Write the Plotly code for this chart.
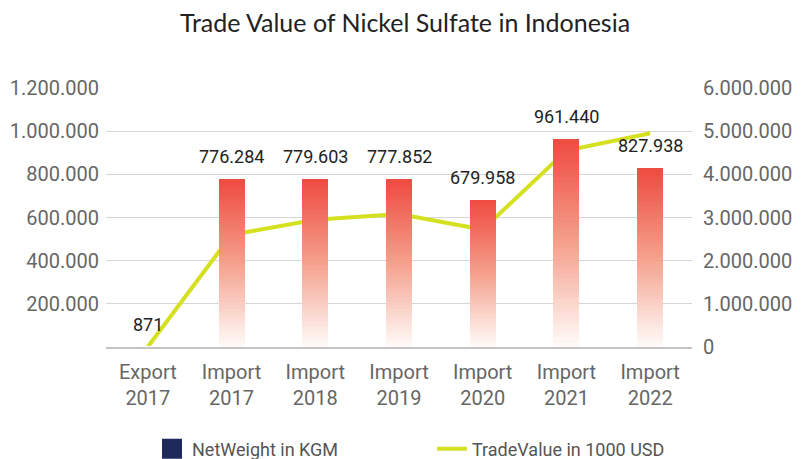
import plotly.graph_objects as go

categories = ["Export<br>2017", "Import<br>2017", "Import<br>2018", "Import<br>2019",
              "Import<br>2020", "Import<br>2021", "Import<br>2022"]
net_weight_kgm = [871, 776284, 779603, 777852, 679958, 961440, 827938]
trade_value_1000usd = [5000, 2600000, 2950000, 3080000, 2720000, 4550000, 4950000]
left_ticks = [200000, 400000, 600000, 800000, 1000000, 1200000]
right_ticks = [0, 1000000, 2000000, 3000000, 4000000, 5000000, 6000000]

# bar gradient: bottom (almost white) -> top (red)
stops = [(0.0, (255, 252, 250)), (0.5, (245, 160, 140)), (1.0, (239, 74, 64))]
n_seg = 48
left_max = 1200000


def grad_color(t):
    for (t0, c0), (t1, c1) in zip(stops, stops[1:]):
        if t <= t1:
            f = (t - t0) / (t1 - t0)
            rgb = [round(a + (b - a) * f) for a, b in zip(c0, c1)]
            return "rgb({},{},{})".format(*rgb)
    return "rgb({},{},{})".format(*stops[-1][1])


def slice_of(v, i):
    # bars thinner than a pixel are kept as a single pale slice
    if v < left_max * 0.01:
        return v if i == 0 else 0
    return v / n_seg


def dotted(v):
    return f"{v:,}".replace(",", ".")


fig = go.Figure()

# line first, on the main (right-side) axis so the bars sit above it
fig.add_trace(go.Scatter(
    x=categories, y=trade_value_1000usd, mode="lines", name="TradeValue in 1000 USD",
    line=dict(color="#d5e021", width=4), yaxis="y", legendrank=2,
))

# gradient bars as stacked slices of each bar's own value
for i in range(n_seg):
    fig.add_trace(go.Bar(
        x=categories, y=[slice_of(v, i) for v in net_weight_kgm], yaxis="y2",
        marker=dict(color=grad_color((i + 0.5) / n_seg), line=dict(width=0)),
        showlegend=False, hoverinfo="skip",
    ))

# legend entry for the bars
fig.add_trace(go.Scatter(
    x=[None], y=[None], mode="markers", name="NetWeight in KGM", yaxis="y2",
    marker=dict(symbol="square", size=16, color="#1f2a5c",
                line=dict(color="#1f2a5c", width=4)),
    legendrank=1,
))

for cat, v in zip(categories, net_weight_kgm):
    fig.add_annotation(
        x=cat, y=v, yref="y2", text=dotted(v), showarrow=False, yanchor="bottom", yshift=10,
        font=dict(family="Roboto", size=18, color="#222222"),
    )

# page body adds an 8px offset, so the figure is 8px smaller each way
tick_font = dict(family="Roboto", size=20, color="#666666")
fig.update_layout(
    width=794, height=451,
    margin=dict(l=98, r=110, t=80, b=112),
    paper_bgcolor="white", plot_bgcolor="white",
    separators=",.",
    barmode="stack", bargap=0.69,
    title=dict(text="Trade Value of Nickel Sulfate in Indonesia", x=0.5, xref="container",
               y=1 - 15 / 451, yref="container", yanchor="middle",
               font=dict(family="Lato", size=25, color="#222222")),
    xaxis=dict(type="category", tickfont=dict(family="Roboto", size=20, color="#666666"),
               showgrid=False, showline=True, linecolor="#c4c4c8", linewidth=2, ticks="",
               ticklabelstandoff=6, layer="above traces", automargin=False),
    yaxis=dict(side="right", range=[0, 6000000], tickvals=right_ticks, tickformat=",d",
               tickfont=tick_font, showgrid=True, gridcolor="#d6d6d6", gridwidth=1,
               zeroline=False, ticks="", ticklabelstandoff=10, automargin=False),
    yaxis2=dict(side="left", overlaying="y", range=[0, left_max], tickvals=left_ticks,
                tickformat=",d", tickfont=tick_font, showgrid=False, zeroline=False,
                ticks="", ticklabelstandoff=6, automargin=False),
    legend=dict(orientation="h", x=0.0785, xanchor="left", y=1 - 441 / 451, yref="container",
                yanchor="middle",
                font=dict(family="Roboto", size=18, color="#555555"),
                entrywidth=235, entrywidthmode="pixels", traceorder="normal"),
    showlegend=True,
)

fig.write_html("out.html")
